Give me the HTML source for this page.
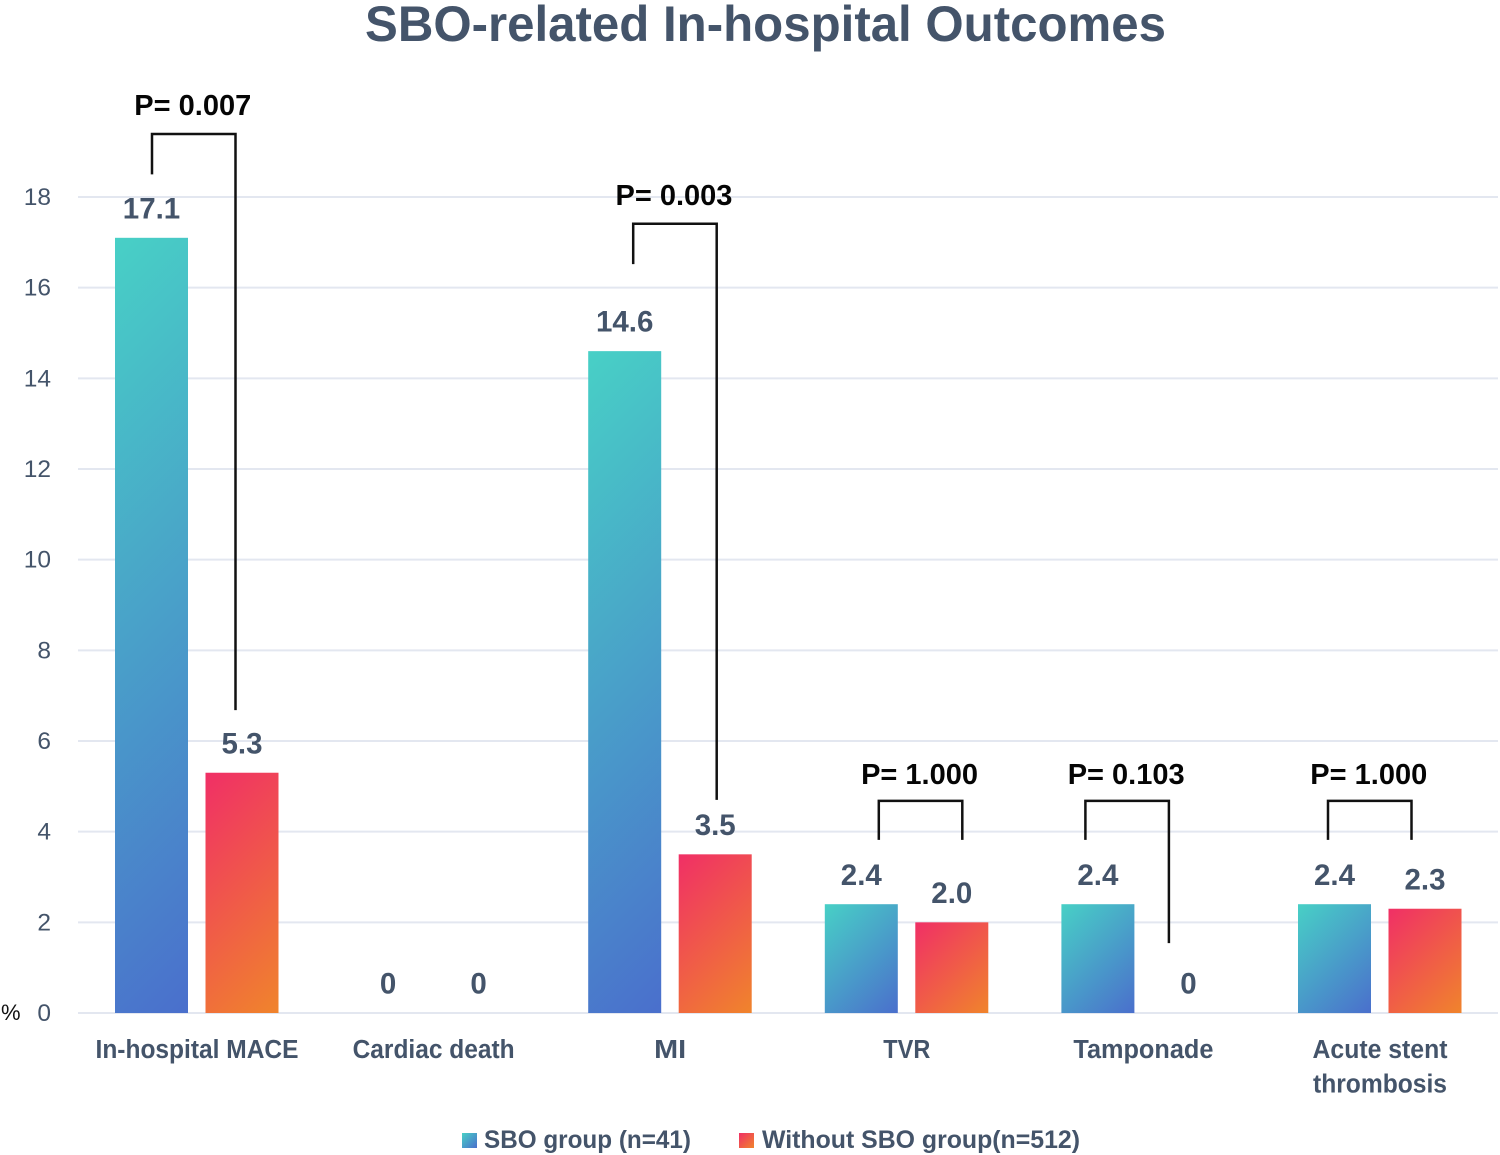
<!DOCTYPE html>
<html lang="en">
<head>
<meta charset="utf-8">
<title>SBO-related In-hospital Outcomes</title>
<style>
html,body{margin:0;padding:0;background:#fff;width:1500px;height:1155px;overflow:hidden}
svg{display:block}
text{font-family:"Liberation Sans",Arial,sans-serif}
</style>
</head>
<body>
<svg id="chart" xmlns="http://www.w3.org/2000/svg" width="1500" height="1155" viewBox="0 0 1500 1155">
  <defs id="defs">
    <linearGradient id="grad-sbo" x1="0" y1="0" x2="1" y2="1">
      <stop offset="0" stop-color="#48d0c6"/>
      <stop offset="1" stop-color="#4a6fcc"/>
    </linearGradient>
    <linearGradient id="grad-nosbo" x1="0" y1="0" x2="1" y2="1">
      <stop offset="0" stop-color="#f02f66"/>
      <stop offset="1" stop-color="#f0842c"/>
    </linearGradient>
  </defs>
  <text x="765.5" y="41" text-anchor="middle" font-size="50" font-weight="700" fill="#44546a" textLength="801" lengthAdjust="spacingAndGlyphs">SBO-related In-hospital Outcomes</text>
  <g id="grid"></g>
  <g id="yticks"></g>
  <text x="1" y="1020" font-size="22" fill="#111">%</text>
  <g id="bars"></g>
  <g id="values"></g>
  <g id="cats"></g>
  <g id="brackets"></g>
  <g>
    <rect x="462" y="1133" width="15" height="15" fill="url(#grad-sbo)"/>
    <text x="484" y="1148" font-size="25" font-weight="700" fill="#44546a" textLength="207" lengthAdjust="spacingAndGlyphs">SBO group (n=41)</text>
    <rect x="739" y="1133" width="15" height="15" fill="url(#grad-nosbo)"/>
    <text x="762" y="1148" font-size="25" font-weight="700" fill="#44546a" textLength="318" lengthAdjust="spacingAndGlyphs">Without SBO group(n=512)</text>
  </g>
</svg>
<script>
// ---- data ----
const categories = [["In-hospital MACE"], ["Cardiac death"], ["MI"], ["TVR"], ["Tamponade"], ["Acute stent", "thrombosis"]];
const sboValues = [17.1, 0, 14.6, 2.4, 2.4, 2.4];
const withoutSboValues = [5.3, 0, 3.5, 2.0, 0, 2.3];
const sboLabels = ["17.1", "0", "14.6", "2.4", "2.4", "2.4"];
const withoutSboLabels = ["5.3", "0", "3.5", "2.0", "0", "2.3"];
const yTicks = [0, 2, 4, 6, 8, 10, 12, 14, 16, 18];

// significance annotations (category index, p text, levels in axis units)
const pCategory = [0, 2, 3, 4, 5];
const pLabels = ["P= 0.007", "P= 0.003", "P= 1.000", "P= 0.103", "P= 1.000"];
const pTopLevel = [19.39, 17.41, 4.68, 4.68, 4.68];
const pLeftEnd = [18.5, 16.52, 3.82, 3.82, 3.82];
const pRightEnd = [6.68, 4.7, 3.82, 1.54, 3.82];

// annotation layout, kept apart from the data
const pShift = [-45, -37, -28, -58, -52];
const pRise = [19, 19, 17, 17, 17];
const catLabelWidths = [[203], [162], [32], [47], [140], [135, 134]];

// ---- axis functions ----
const yZero = 1013, yPerUnit = 45.333;
const catStart = 197, catStep = 236.6;
function y(v) { return yZero - v * yPerUnit; }
function catX(i) { return catStart + i * catStep; }

const NS = "http://www.w3.org/2000/svg";
const defs = document.getElementById("defs");
const gridG = document.getElementById("grid");
const tickG = document.getElementById("yticks");
const barG = document.getElementById("bars");
const valG = document.getElementById("values");
const catG = document.getElementById("cats");
const brG = document.getElementById("brackets");
const INK = "#44546a";

function mk(tag, parent, attrs) {
  const e = document.createElementNS(NS, tag);
  for (const k in attrs) e.setAttribute(k, attrs[k]);
  parent.appendChild(e);
  return e;
}

// true 45-degree gradient, so tall bars shade mostly top-to-bottom
function barGradient(id, bx, by, bw, bh, c0, c1) {
  const d = (bw + bh) / 2;
  const g = mk("linearGradient", defs, { id: id, gradientUnits: "userSpaceOnUse", x1: bx, y1: by, x2: bx + d, y2: by + d });
  mk("stop", g, { offset: 0, "stop-color": c0 });
  mk("stop", g, { offset: 1, "stop-color": c1 });
  return "url(#" + id + ")";
}

yTicks.forEach(function (t) {
  const line = mk("line", gridG, { x1: 78, x2: 1498, y1: y(t), y2: y(t), stroke: "#e3e7f0", "stroke-width": 2 });
  
  
  const lab = mk("text", tickG, { x: 51, y: y(t) + 8, "text-anchor": "end", "font-size": 24.5, fill: INK });
  
  
  lab.textContent = t;
});

const barW = 73, barGap = 8.5;
categories.forEach(function (lines, i) {
  const cx = catX(i);
  const x1 = cx - 9 - barW, x2 = cx + barGap;
  const h1 = yZero - y(sboValues[i]);
  const h2 = yZero - y(withoutSboValues[i]);

  const b1 = mk("rect", barG, { x: x1, y: y(sboValues[i]), width: barW, height: h1,
    fill: barGradient("g-sbo-" + i, x1, y(sboValues[i]), barW, h1, "#48d0c6", "#4a6fcc") });
  
  
  const b2 = mk("rect", barG, { x: x2, y: y(withoutSboValues[i]), width: barW, height: h2,
    fill: barGradient("g-nosbo-" + i, x2, y(withoutSboValues[i]), barW, h2, "#f02f66", "#f0842c") });
  
  

  const v1 = mk("text", valG, { x: x1 + barW / 2, y: y(sboValues[i]) - 19.4, "text-anchor": "middle", "font-size": 29.5, "font-weight": 700, fill: INK });
  
  
  v1.textContent = sboLabels[i];
  const v2 = mk("text", valG, { x: x2 + barW / 2, y: y(withoutSboValues[i]) - 19.4, "text-anchor": "middle", "font-size": 29.5, "font-weight": 700, fill: INK });
  
  
  v2.textContent = withoutSboLabels[i];

  lines.forEach(function (ln, j) {
    const c = mk("text", catG, { x: cx, y: 1058 + j * 34.5, "text-anchor": "middle", "font-size": 25.5, "font-weight": 700, fill: INK,
      textLength: catLabelWidths[i][j], lengthAdjust: "spacingAndGlyphs" });
    
    
    c.textContent = ln;
  });
});

const bracketW = 83.5;
pCategory.forEach(function (c, k) {
  const xl = catX(c) + pShift[k], xr = xl + bracketW;
  const p = mk("polyline", brG, {
    points: xl + "," + y(pLeftEnd[k]) + " " + xl + "," + y(pTopLevel[k]) + " " + xr + "," + y(pTopLevel[k]) + " " + xr + "," + y(pRightEnd[k]),
    fill: "none", stroke: "#111", "stroke-width": 2.5
  });
  
  
  const t = mk("text", brG, { x: (xl + xr) / 2 - 1, y: y(pTopLevel[k]) - pRise[k], "text-anchor": "middle", "font-size": 29, "font-weight": 700, fill: "#050505" });
  
  
  t.textContent = pLabels[k];
});
</script>
</body>
</html>
